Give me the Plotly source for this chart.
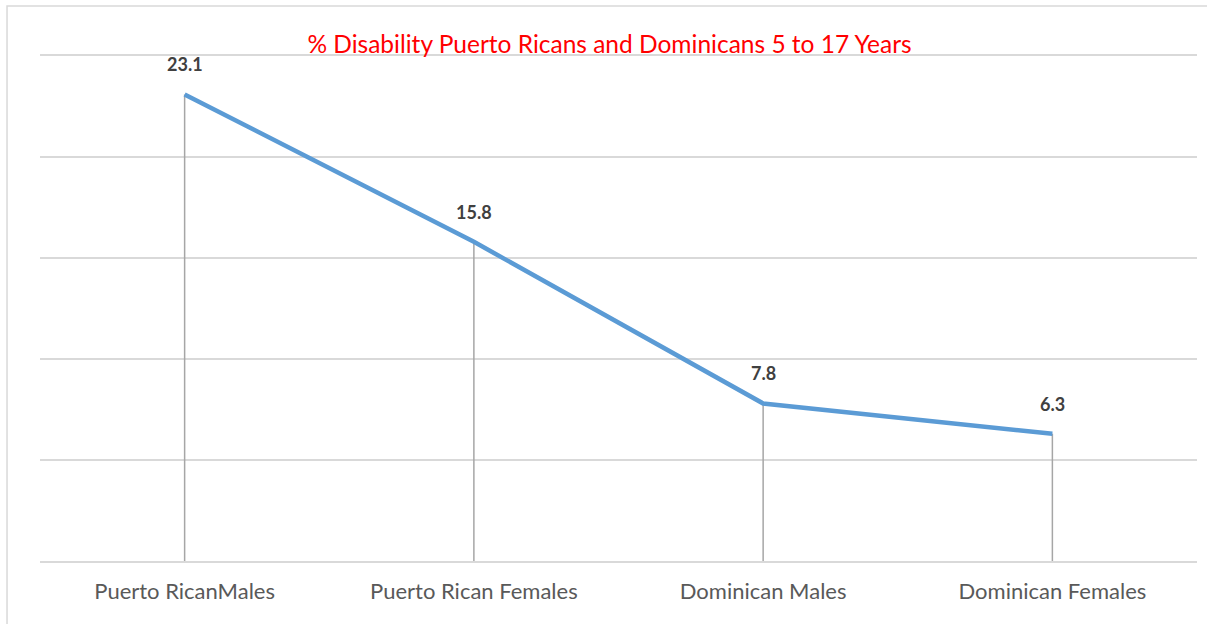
import plotly.graph_objects as go

# Share of children aged 5-17 with a disability, by group
categories = ["Puerto RicanMales", "Puerto Rican Females", "Dominican Males", "Dominican Females"]
pct_disability = [23.1, 15.8, 7.8, 6.3]
y_ticks = [0, 5, 10, 15, 20, 25]

TITLE = "% Disability Puerto Ricans and Dominicans 5 to 17 Years"
FONT = "Lato, 'Open Sans', sans-serif"

fig = go.Figure()

# Vertical drop lines from the axis up to each value
drop_x, drop_y = [], []
for c, v in zip(categories, pct_disability):
    drop_x += [c, c, None]
    drop_y += [0, v, None]
fig.add_trace(go.Scatter(
    x=drop_x, y=drop_y, mode="lines",
    line=dict(color="#a6a6a6", width=1.5),
    hoverinfo="skip", showlegend=False,
))

# Main series
fig.add_trace(go.Scatter(
    x=categories, y=pct_disability, mode="lines",
    line=dict(color="#5b9bd5", width=4.5),
    showlegend=False,
))

# Value labels above each point
for c, v in zip(categories, pct_disability):
    fig.add_annotation(
        x=c, y=v, text=f"<b>{v}</b>", showarrow=False,
        yshift=30, font=dict(family=FONT, size=18, color="#404040"),
    )

# Chart-area border (left and top edges; the rest runs off the page)
fig.add_shape(
    type="path", xref="paper", yref="paper",
    path="M -0.0285,-0.3 L -0.0285,1.099 L 1.2,1.099",
    line=dict(color="#d9d9d9", width=1.5), layer="below",
)

fig.update_layout(
    width=1207, height=624,
    margin=dict(l=40, r=10, t=56, b=63),
    paper_bgcolor="white", plot_bgcolor="white",
    title=dict(
        text=TITLE, x=0.505, xanchor="center", y=1 - 44 / 624, yanchor="middle",
        font=dict(family=FONT, size=24.5, color="#ff0000"),
    ),
    xaxis=dict(
        type="category", range=[-0.5, 3.5], showgrid=False, zeroline=False,
        showline=True, mirror=True, linecolor="#d9d9d9", linewidth=1.5,
        ticks="", ticklen=0, ticklabelstandoff=10,
        tickfont=dict(family=FONT, size=22, color="#595959"),
    ),
    yaxis=dict(
        range=[0, 25], tickvals=y_ticks, showticklabels=False,
        showgrid=True, gridcolor="#d9d9d9", gridwidth=1.5,
        zeroline=False, showline=False,
    ),
    showlegend=False,
)

fig.write_html("out.html")
